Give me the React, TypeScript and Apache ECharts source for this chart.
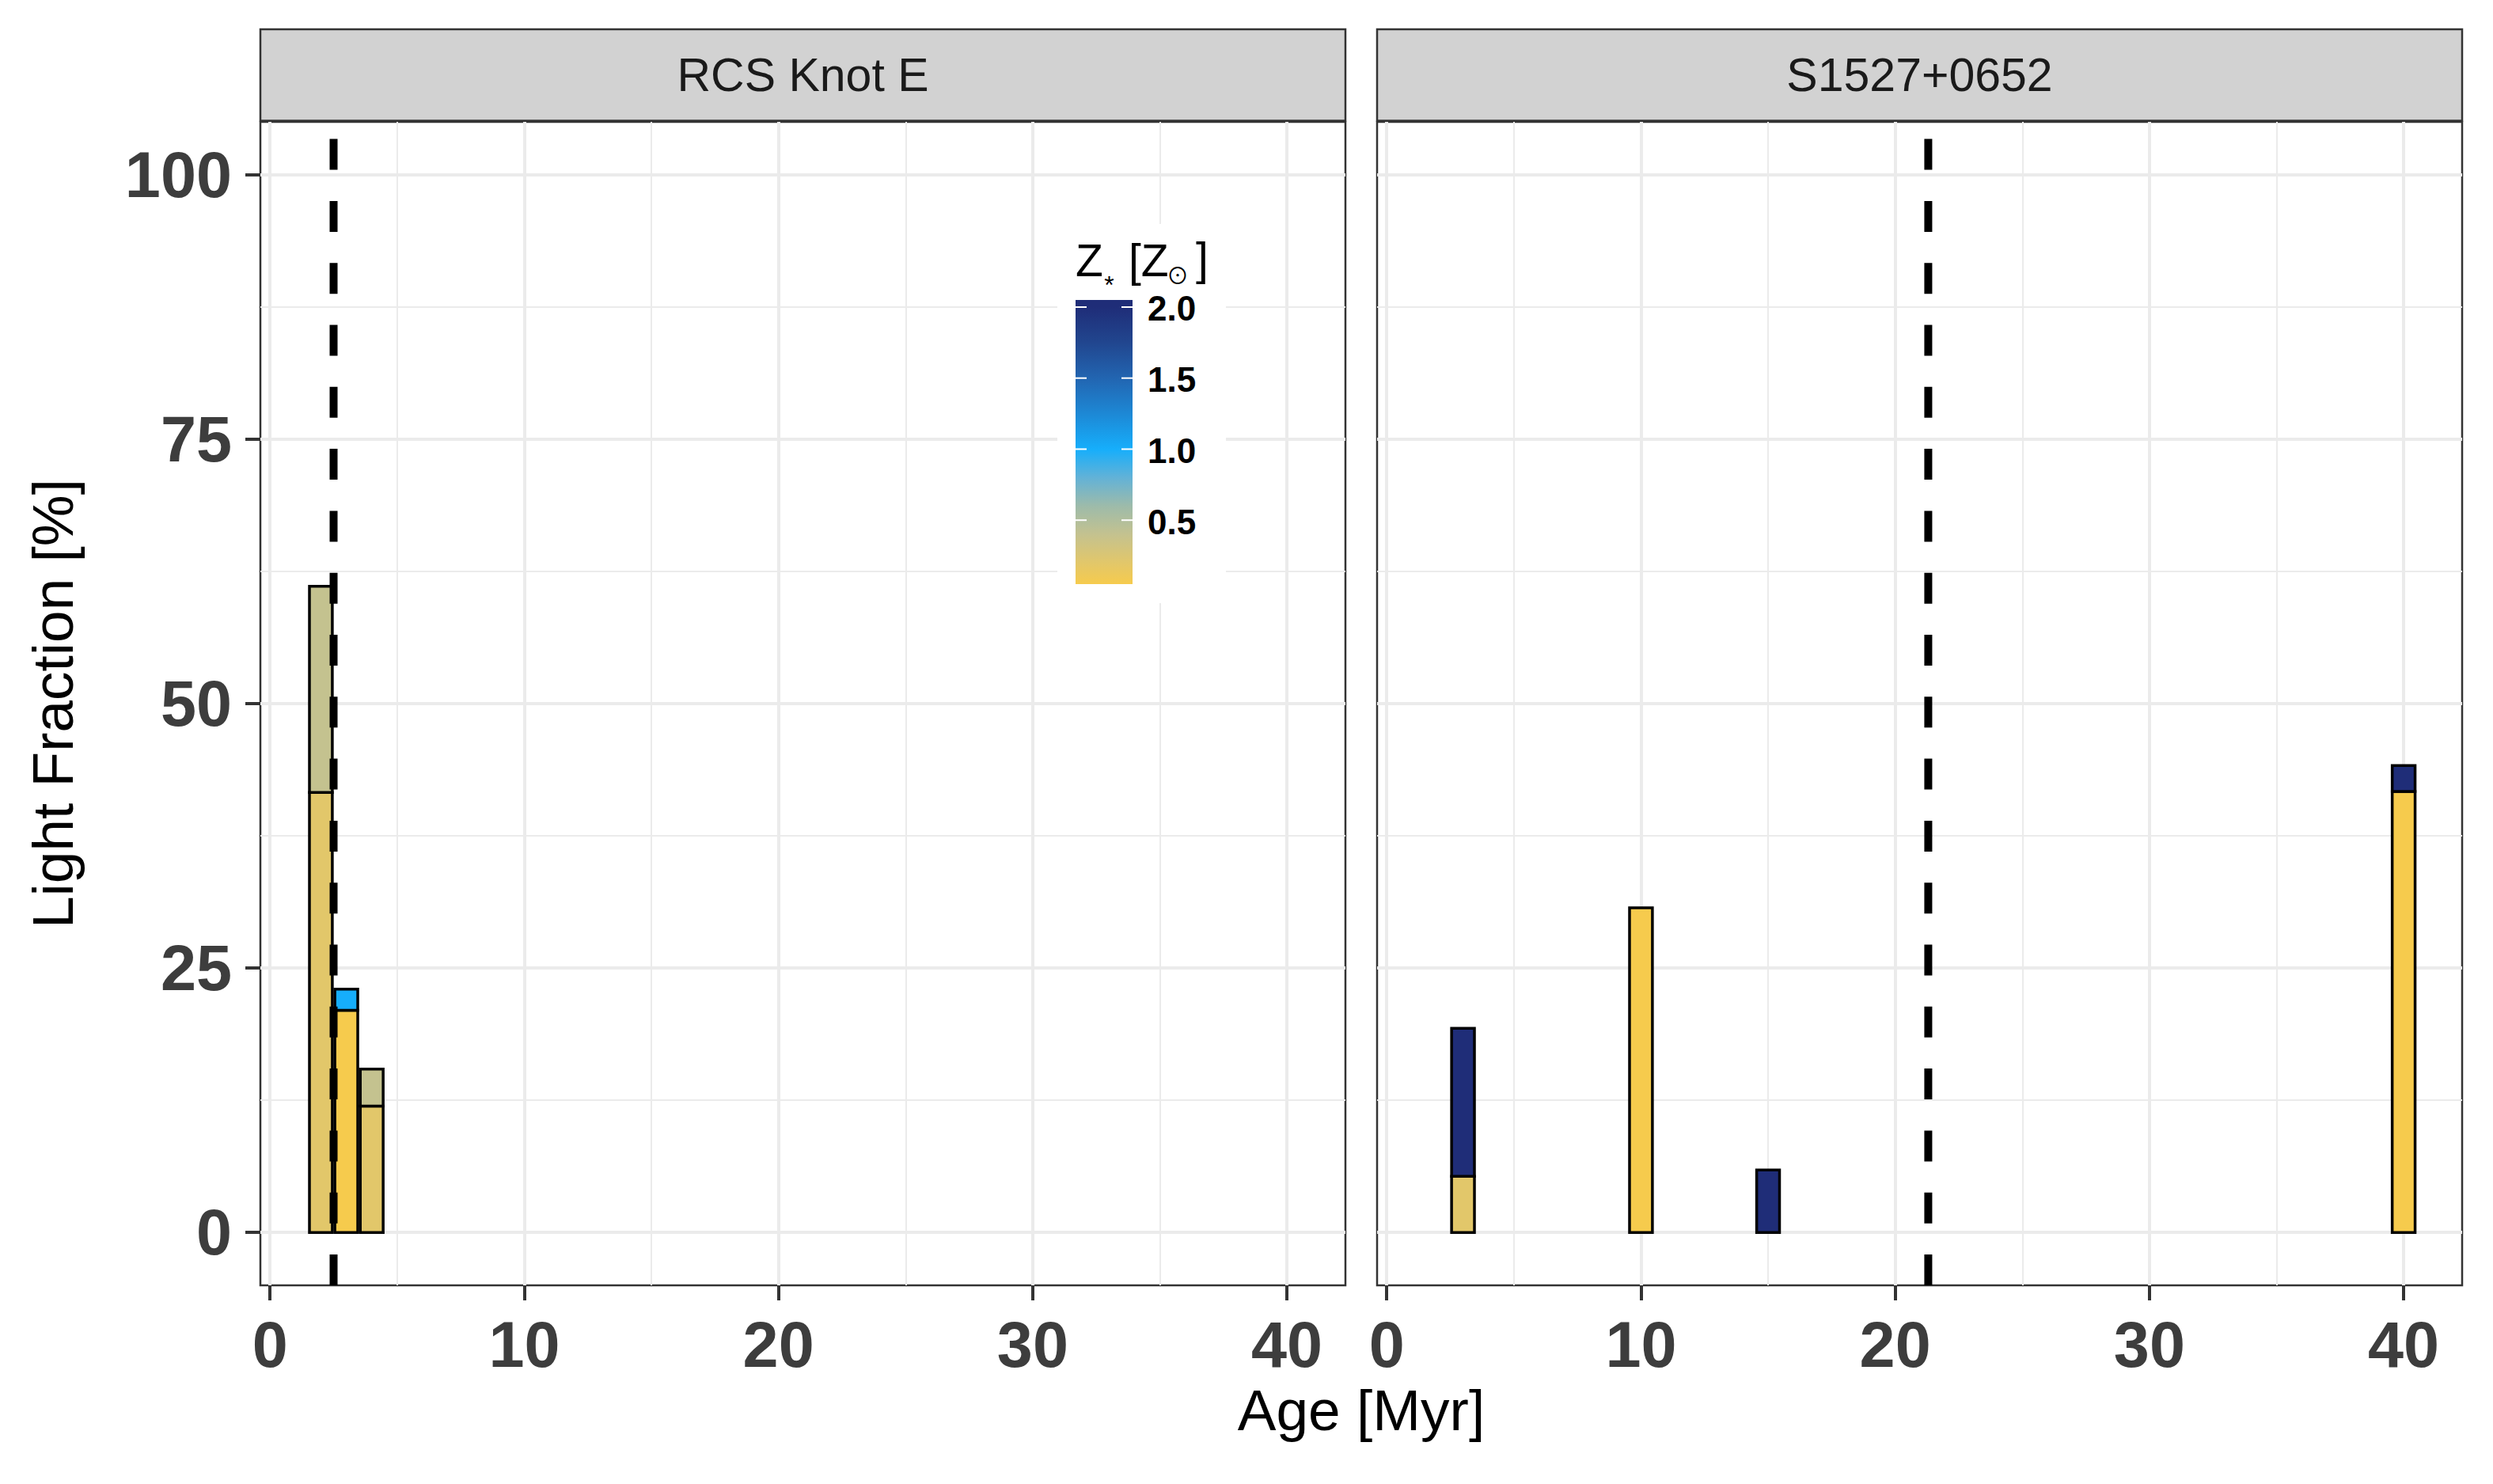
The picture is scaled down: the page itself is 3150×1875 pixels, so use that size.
import React, { useEffect, useRef } from "react";
import * as echarts from "echarts";

const FONT = '"Liberation Sans", Arial, Helvetica, sans-serif';

// ---- data ----
const panelNames = ["RCS Knot E", "S1527+0652"];
const xTickValues = [0, 10, 20, 30, 40];
const xMinorValues = [5, 15, 25, 35];
const yTickValues = [0, 25, 50, 75, 100];
const yMinorValues = [12.5, 37.5, 62.5, 87.5];
const xRange = [-0.38, 42.3];
const yRange = [-5, 105];

// one entry per stacked segment (bottom to top within each age)
const segPanel = [0, 0, 0, 0, 0, 0, 1, 1, 1, 1, 1, 1];
const segAge = [2, 2, 3, 3, 4, 4, 3, 3, 10, 15, 40, 40];
const segFrac = [41.6, 19.5, 21.0, 2.0, 11.95, 3.5, 5.3, 14.0, 30.7, 5.9, 41.7, 2.45];
const segZ = [0.2, 0.4, 0.05, 1.0, 0.2, 0.4, 0.2, 2.0, 0.05, 2.0, 0.05, 2.0];

const medianAge = [2.5, 21.3];

// colour scale for Z*
const zStops = [0.05, 0.2, 0.4, 0.6, 0.8, 1.0, 1.25, 1.5, 1.75, 2.0];
const zColors = ["#F6CB4D", "#E2C76A", "#C4C28F", "#9DBBAA", "#62B2D7", "#16AEFB", "#1D88D5", "#2265B1", "#21468F", "#1F2D78"];
const legendTickValues = [0.5, 1.0, 1.5, 2.0];
const legendTickLabels = ["0.5", "1.0", "1.5", "2.0"];
const legendRange = [0.05, 2.05];

// ---- layout ----
const GRID_TOP = 154;
const GRID_H = 1470;
const GRID_W = 1371;
const GRID_LEFT = [329, 1740];
const STRIP_TOP = 37;
const STRIP_BOTTOM = 152.5;
const BAR_HALF = 0.45;

function hexToRgb(h: string) {
  const n = parseInt(h.slice(1), 16);
  return [(n >> 16) & 255, (n >> 8) & 255, n & 255];
}
function zColor(z: number) {
  if (z <= zStops[0]) return zColors[0];
  for (let i = 1; i < zStops.length; i++) {
    if (z <= zStops[i]) {
      const t = (z - zStops[i - 1]) / (zStops[i] - zStops[i - 1]);
      const a = hexToRgb(zColors[i - 1]);
      const b = hexToRgb(zColors[i]);
      const c = a.map((v, k) => Math.round(v + (b[k] - v) * t));
      return `rgb(${c[0]},${c[1]},${c[2]})`;
    }
  }
  return zColors[zColors.length - 1];
}

function buildSegments(panel: number) {
  const base: Record<number, number> = {};
  const out: number[][] = [];
  segAge.forEach((age, i) => {
    if (segPanel[i] !== panel) return;
    const y0 = base[age] || 0;
    const y1 = y0 + segFrac[i];
    base[age] = y1;
    out.push([age, y0, y1, segZ[i]]);
  });
  return out;
}

export default function App() {
  const ref = useRef<HTMLDivElement>(null);
  useEffect(() => {
    const chart = echarts.init(ref.current!, null, { renderer: "svg" });

    const grids = GRID_LEFT.map((l) => ({
      left: l,
      top: GRID_TOP,
      width: GRID_W,
      height: GRID_H,
      show: true,
      borderColor: "#333333",
      borderWidth: 2.5,
      backgroundColor: "transparent",
      containLabel: false,
      outerBoundsMode: "none",
    }));

    const xAxes: any[] = [];
    const yAxes: any[] = [];
    panelNames.forEach((_, p) => {
      xAxes.push({
        gridIndex: p,
        type: "value",
        min: xRange[0],
        max: xRange[1],
        position: "bottom",
        axisLine: { show: false, onZero: false },
        axisTick: { show: true, customValues: xTickValues, length: 19, lineStyle: { color: "#333333", width: 4 } },
        axisLabel: {
          show: true,
          customValues: xTickValues,
          margin: 34,
          fontSize: 81,
          fontWeight: "bold",
          fontFamily: FONT,
          color: "#3D3D3D",
        },
        splitLine: { show: true, lineStyle: { color: "#EBEBEB", width: 4 } },
      });
      xAxes.push({
        gridIndex: p,
        type: "value",
        min: xRange[0],
        max: xRange[1],
        position: "top",
        axisLine: { show: false, onZero: false },
        axisTick: { show: false, customValues: xMinorValues },
        axisLabel: { show: false, customValues: xMinorValues },
        splitLine: { show: true, lineStyle: { color: "#EBEBEB", width: 2 } },
      });
      yAxes.push({
        gridIndex: p,
        type: "value",
        min: yRange[0],
        max: yRange[1],
        position: "left",
        axisLine: { show: false, onZero: false },
        axisTick: { show: p === 0, customValues: yTickValues, length: 19, lineStyle: { color: "#333333", width: 4 } },
        axisLabel: {
          show: p === 0,
          customValues: yTickValues,
          margin: 36,
          fontSize: 81,
          fontWeight: "bold",
          fontFamily: FONT,
          color: "#3D3D3D",
        },
        splitLine: { show: true, lineStyle: { color: "#EBEBEB", width: 4 } },
      });
      yAxes.push({
        gridIndex: p,
        type: "value",
        min: yRange[0],
        max: yRange[1],
        position: "right",
        axisLine: { show: false, onZero: false },
        axisTick: { show: false, customValues: yMinorValues },
        axisLabel: { show: false, customValues: yMinorValues },
        splitLine: { show: true, lineStyle: { color: "#EBEBEB", width: 2 } },
      });
    });

    const series: any[] = [];
    panelNames.forEach((_, p) => {
      series.push({
        type: "custom",
        xAxisIndex: p * 2,
        yAxisIndex: p * 2,
        data: buildSegments(p),
        encode: { x: 0, y: [1, 2] },
        silent: true,
        z: 3,
        renderItem: (params: any, api: any) => {
          const x = api.value(0);
          const y0 = api.value(1);
          const y1 = api.value(2);
          const z = api.value(3);
          const p0 = api.coord([x - BAR_HALF, y0]);
          const p1 = api.coord([x + BAR_HALF, y1]);
          return {
            type: "rect",
            shape: { x: p0[0], y: p1[1], width: p1[0] - p0[0], height: p0[1] - p1[1] },
            style: { fill: zColor(z), stroke: "#000000", lineWidth: 3.5 },
          };
        },
      });
      series.push({
        type: "line",
        xAxisIndex: p * 2,
        yAxisIndex: p * 2,
        data: [
          [medianAge[p], yRange[0]],
          [medianAge[p], yRange[1]],
        ],
        showSymbol: false,
        symbol: "none",
        silent: true,
        z: 4,
        lineStyle: { color: "#000000", width: 10, type: [39, 39.3], cap: "butt" },
      });
    });

    // legend geometry
    const barX = 1359;
    const barY = 379;
    const barW = 72;
    const barH = 359;
    const legY = (v: number) => barY + ((legendRange[1] - v) / (legendRange[1] - legendRange[0])) * barH;
    const gradStops = zStops.map((v, i) => ({
      offset: (v - legendRange[0]) / (legendRange[1] - legendRange[0]),
      color: zColors[i],
    }));
    gradStops.push({ offset: 1, color: zColors[zColors.length - 1] });

    const graphic: any[] = [];
    // strips
    panelNames.forEach((name, p) => {
      graphic.push({
        type: "rect",
        shape: { x: GRID_LEFT[p], y: STRIP_TOP, width: GRID_W, height: STRIP_BOTTOM - STRIP_TOP },
        style: { fill: "#D2D2D2", stroke: "#333333", lineWidth: 2.5 },
        silent: true,
      });
      graphic.push({
        type: "text",
        x: GRID_LEFT[p] + GRID_W / 2,
        y: (STRIP_TOP + STRIP_BOTTOM) / 2,
        style: {
          text: name,
          fontSize: 59,
          fontFamily: FONT,
          fill: "#1A1A1A",
          align: "center",
          verticalAlign: "middle",
        },
        silent: true,
      });
    });
    // axis titles
    graphic.push({
      type: "text",
      x: (GRID_LEFT[0] + GRID_LEFT[1] + GRID_W) / 2,
      y: 1781,
      style: { text: "Age [Myr]", fontSize: 73, fontFamily: FONT, fill: "#000000", align: "center", verticalAlign: "middle" },
      silent: true,
    });
    graphic.push({
      type: "text",
      x: 66,
      y: GRID_TOP + GRID_H / 2,
      rotation: Math.PI / 2,
      style: { text: "Light Fraction [%]", fontSize: 73, fontFamily: FONT, fill: "#000000", align: "center", verticalAlign: "middle" },
      silent: true,
    });
    // legend background
    graphic.push({
      type: "rect",
      shape: { x: 1336, y: 283, width: 213, height: 479 },
      style: { fill: "#FFFFFF" },
      silent: true,
      z: 10,
    });
    // legend title pieces
    graphic.push({
      type: "text",
      x: 1359,
      y: 329,
      z: 11,
      style: { text: "Z", fontSize: 57, lineHeight: 50, fontFamily: FONT, fill: "#000", align: "left", verticalAlign: "middle" },
      silent: true,
    });
    graphic.push({
      type: "text",
      x: 1401.5,
      y: 360,
      z: 11,
      style: { text: "*", fontSize: 32, lineHeight: 14, fontFamily: FONT, fill: "#000", align: "center", verticalAlign: "middle" },
      silent: true,
    });
    graphic.push({
      type: "text",
      x: 1426,
      y: 329,
      z: 11,
      style: { text: "[Z", fontSize: 57, lineHeight: 50, fontFamily: FONT, fill: "#000", align: "left", verticalAlign: "middle" },
      silent: true,
    });
    graphic.push({
      type: "text",
      x: 1488,
      y: 347,
      z: 11,
      style: { text: "\u2299", fontSize: 28, lineHeight: 26, fontFamily: '"Noto Sans CJK JP", "DejaVu Sans", sans-serif', fill: "#000", align: "center", verticalAlign: "middle" },
      silent: true,
    });
    graphic.push({
      type: "text",
      x: 1511,
      y: 327,
      z: 11,
      style: { text: "]", fontSize: 57, lineHeight: 50, fontFamily: FONT, fill: "#000", align: "left", verticalAlign: "middle" },
      silent: true,
    });
    // colour bar
    graphic.push({
      type: "rect",
      shape: { x: barX, y: barY, width: barW, height: barH },
      style: { fill: new echarts.graphic.LinearGradient(0, 1, 0, 0, gradStops) },
      silent: true,
      z: 11,
    });
    legendTickValues.forEach((v, i) => {
      const y = legY(v);
      graphic.push({
        type: "line",
        shape: { x1: barX, y1: y, x2: barX + 14, y2: y },
        style: { stroke: "#FFFFFF", lineWidth: 2 },
        silent: true,
        z: 12,
      });
      graphic.push({
        type: "line",
        shape: { x1: barX + barW - 14, y1: y, x2: barX + barW, y2: y },
        style: { stroke: "#FFFFFF", lineWidth: 2 },
        silent: true,
        z: 12,
      });
      graphic.push({
        type: "text",
        x: 1450,
        y: y + 2,
        z: 12,
        style: {
          text: legendTickLabels[i],
          fontSize: 44,
          lineHeight: 36,
          fontWeight: "bold",
          fontFamily: FONT,
          fill: "#000000",
          align: "left",
          verticalAlign: "middle",
        },
        silent: true,
      });
    });

    chart.setOption({
      animation: false,
      backgroundColor: "#FFFFFF",
      grid: grids,
      xAxis: xAxes,
      yAxis: yAxes,
      series,
      graphic,
    });
    return () => chart.dispose();
  }, []);
  return (
    <div
      ref={ref}
      style={{ position: "fixed", left: 0, top: 0, width: "3150px", height: "1875px", background: "#FFFFFF" }}
    />
  );
}
